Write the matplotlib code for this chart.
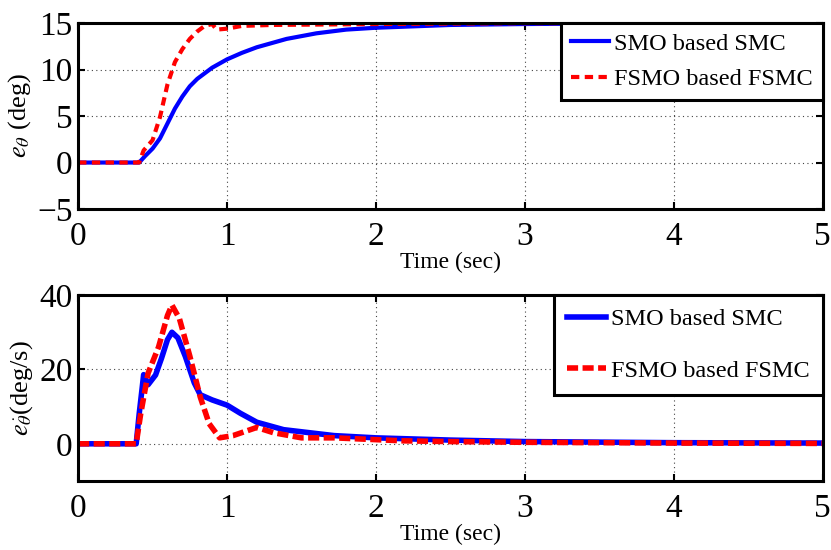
import matplotlib
matplotlib.use('Agg')
import matplotlib.pyplot as plt

plt.rcParams['font.family'] = ['Liberation Serif', 'DejaVu Serif']
plt.rcParams['mathtext.fontset'] = 'stix'

# top: angle error (deg)
t_smo_top = [0, 0.41, 0.45, 0.5, 0.55, 0.6, 0.65, 0.7, 0.75, 0.8, 0.9, 1.0, 1.1, 1.2,
             1.4, 1.6, 1.8, 2.0, 2.5, 3.0, 4.0, 5.0]
e_smo_top = [0, 0, 0.7, 1.5, 2.6, 4.2, 5.8, 7.1, 8.2, 9.0, 10.2, 11.1, 11.8, 12.4,
             13.3, 13.9, 14.3, 14.5, 14.8, 14.9, 15.0, 15.0]
t_fsmo_top = [0, 0.41, 0.44, 0.5, 0.55, 0.6, 0.65, 0.7, 0.75, 0.8, 0.85, 0.9, 0.93,
              1.0, 1.1, 1.3, 2.0, 3.0, 5.0]
e_fsmo_top = [0, 0, 1.3, 2.4, 4.9, 8.4, 10.8, 12.2, 13.3, 14.1, 14.7, 14.9, 14.3,
              14.4, 14.7, 14.8, 14.9, 15.0, 15.0]

# bottom: angle rate error (deg/s)
t_smo_bot = [0, 0.39, 0.41, 0.43, 0.44, 0.47, 0.52, 0.56, 0.6, 0.63, 0.67, 0.72,
             0.78, 0.82, 0.9, 1.0, 1.09, 1.2, 1.38, 1.72, 2.0, 2.5, 3.0, 4.0, 5.0]
e_smo_bot = [0, 0, 8, 15, 18.6, 15.9, 18.5, 23, 28, 30, 28.5, 23.5, 16.4, 13.2,
             11.8, 10.4, 8.2, 5.8, 3.8, 2.2, 1.6, 1.0, 0.6, 0.3, 0.2]
t_fsmo_bot = [0, 0.39, 0.42, 0.47, 0.54, 0.6, 0.63, 0.68, 0.75, 0.82, 0.88, 0.95,
              1.04, 1.2, 1.31, 1.5, 1.72, 2.18, 2.5, 3.0, 4.0, 5.0]
e_fsmo_bot = [0, 0, 8, 19, 26, 34.5, 37.3, 33.7, 23.6, 12.6, 5.4, 1.6, 2.2, 4.4,
              3.0, 1.6, 1.6, 0.8, 0.6, 0.4, 0.2, 0.1]

labels = ['SMO based SMC', 'FSMO based FSMC']

fig = plt.figure(figsize=(8.31, 5.5), dpi=100)
ax1 = fig.add_axes([0.094, 0.62, 0.896, 0.338])
ax2 = fig.add_axes([0.094, 0.1255, 0.896, 0.338])

ax1.plot(t_smo_top, e_smo_top, color='#0000ff', lw=3, label=labels[0])
ax1.plot(t_fsmo_top, e_fsmo_top, color='#ff0000', lw=3, ls=(0, (2, 1.3)), label=labels[1])
ax2.plot(t_smo_bot, e_smo_bot, color='#0000ff', lw=4, label=labels[0])
ax2.plot(t_fsmo_bot, e_fsmo_bot, color='#ff0000', lw=4, ls=(0, (2, 0.8)), label=labels[1])

ax1.set_ylim(-5, 15)
ax1.set_yticks([-5, 0, 5, 10, 15])
ax2.set_ylim(-10, 40)
ax2.set_yticks([0, 20, 40])
ax1.set_ylabel(r'$e_{\theta}$ (deg)', fontsize=19, labelpad=3)
ax2.set_ylabel(r'$e_{\dot{\theta}}$(deg/s)', fontsize=19, labelpad=3)

for ax in (ax1, ax2):
    ax.set_xlim(0, 5)
    ax.set_xticks([0, 1, 2, 3, 4, 5])
    ax.set_xlabel('Time (sec)', fontsize=17, labelpad=0)
    ax.grid(True, ls=(0, (1, 3)), color='#444444', lw=0.8)
    ax.tick_params(direction='in', labelsize=24, width=1.5, length=5,
                   top=True, right=True)
    ax.tick_params(axis='x', pad=9)
    ax.tick_params(axis='y', pad=4)
    for s in ax.spines.values():
        s.set_linewidth(2.2)

leg1 = ax1.legend(loc='upper right', fontsize=17.5, fancybox=False, framealpha=1,
                  edgecolor='black', borderaxespad=0.0, handlelength=1.6,
                  handletextpad=0.2, labelspacing=0.55, borderpad=0.4)
leg2 = ax2.legend(loc='upper right', fontsize=17.5, fancybox=False, framealpha=1,
                  edgecolor='black', borderaxespad=0.0, handlelength=1.6,
                  handletextpad=0.2, labelspacing=1.2, borderpad=0.55)
for leg in (leg1, leg2):
    leg.get_frame().set_linewidth(2.2)

fig.savefig('out.png', dpi=100)
